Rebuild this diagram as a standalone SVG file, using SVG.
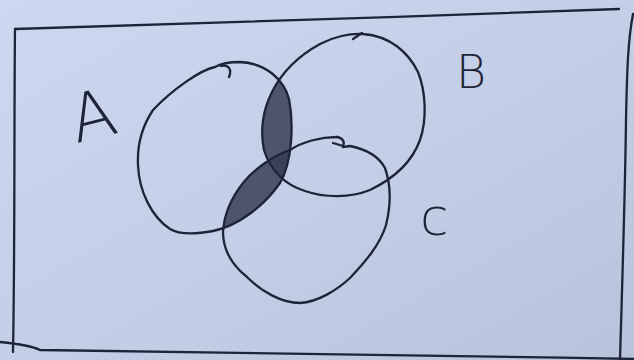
<svg xmlns="http://www.w3.org/2000/svg" width="634" height="360" viewBox="0 0 634 360">
<defs>
<linearGradient id="paper" x1="0" y1="0" x2="1" y2="1">
<stop offset="0" stop-color="#cdd8f0"/>
<stop offset="0.55" stop-color="#c3cde6"/>
<stop offset="1" stop-color="#b8c2da"/>
</linearGradient>
<path id="shapeA" d="M215,67 C200,70 172,90 153,110 C143,125 137,145 138,165 C139,192 152,217 170,229 C180,235 197,234 213,231 C238,226 264,206 280,183 C292,163 294,125 289,99 C284,80 266,63 240,62 C228,62 220,64 215,67 Z"/>
<path id="shapeB" d="M363,34 C390,36 408,52 418,72 C426,92 427,120 420,140 C412,162 395,178 370,190 C350,198 325,198 305,191 C285,185 270,170 264,150 C260,130 263,110 272,92 C282,72 300,55 320,44 C333,37 350,33 363,34 Z"/>
<path id="shapeC" d="M337,137 C320,137 302,142 290,150 C275,155 255,168 243,183 C232,197 224,215 223,232 C223,250 232,265 247,277 C262,292 282,303 300,303 C318,302 337,290 350,278 C365,262 380,245 386,225 C391,205 391,185 385,168 C378,155 365,149 350,146 Z"/>
<clipPath id="clipA"><use href="#shapeA"/></clipPath>
<clipPath id="clipB"><use href="#shapeB"/></clipPath>
<clipPath id="clipC"><use href="#shapeC"/></clipPath>
</defs>
<style>
.ink{fill:none;stroke:#1e2437;stroke-width:2.3;stroke-linecap:round;stroke-linejoin:round}
.shade{fill:#384055;opacity:0.85}
.lbl{font-family:"DejaVu Sans","Liberation Sans",sans-serif;font-weight:200;fill:#1e2437}
</style>
<rect width="634" height="360" fill="url(#paper)"/>
<g id="frame">
<path class="ink" d="M15,29 C150,26 420,16 619,9"/>
<path class="ink" d="M15,29 C14,120 15,250 13,352"/>
<path class="ink" d="M0,342 C20,344 32,346 40,350 C150,352 400,354 634,359"/>
<path class="ink" d="M633,14 C628,40 627,70 626,120 C625,200 622,290 620,360"/>
</g>
<g id="shading">
<g clip-path="url(#clipA)">
<rect class="shade" x="0" y="0" width="634" height="360" clip-path="url(#clipB)"/>
<rect class="shade" x="0" y="0" width="634" height="360" clip-path="url(#clipC)"/>
</g>
</g>
<g id="setA">
<path class="ink" d="M215,67 C200,70 172,90 153,110 C143,125 137,145 138,165 C139,192 152,217 170,229 C180,235 197,234 213,231 C238,226 264,206 280,183 C292,163 294,125 289,99 C284,80 266,63 240,62 C228,62 220,64 215,67"/>
<path class="ink" d="M221,66 C229,64 232,70 229,77"/>
<text class="lbl" x="70" y="138" font-size="66" transform="rotate(-14 95 115)">A</text>
</g>
<g id="setB">
<path class="ink" d="M363,34 C390,36 408,52 418,72 C426,92 427,120 420,140 C412,162 395,178 370,190 C350,198 325,198 305,191 C285,185 270,170 264,150 C260,130 263,110 272,92 C282,72 300,55 320,44 C333,37 350,33 363,34"/>
<path class="ink" d="M353,39 L362,33"/>
<text class="lbl" x="456" y="88" font-size="46">B</text>
</g>
<g id="setC">
<path class="ink" d="M337,137 C320,137 302,142 290,150 C275,155 255,168 243,183 C232,197 224,215 223,232 C223,250 232,265 247,277 C262,292 282,303 300,303 C318,302 337,290 350,278 C365,262 380,245 386,225 C391,205 391,185 385,168 C378,155 365,149 350,146 L343,147"/>
<path class="ink" d="M337,137 C343,138 345,142 343,146 L333,143"/>
<text class="lbl" x="420" y="235" font-size="52">c</text>
</g>
</svg>
